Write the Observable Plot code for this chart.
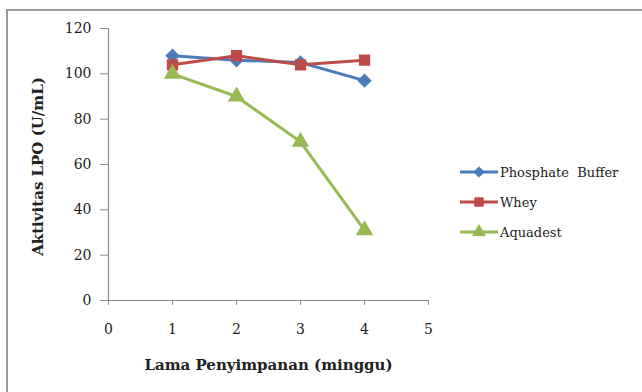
<!DOCTYPE html>
<html>
<head>
<meta charset="utf-8">
<script src="https://cdn.jsdelivr.net/npm/d3@7"></script>
<script src="https://cdn.jsdelivr.net/npm/@observablehq/plot@0.6"></script>
<style>
  html, body { margin: 0; padding: 0; background: #fff; }
  #wrap { position: relative; width: 642px; height: 392px; overflow: hidden; }
  #frame { position: absolute; left: 6px; top: 9px; width: 660px; height: 400px;
           border-left: 2px solid #9a9a9a; border-top: 2px solid #9a9a9a; box-sizing: border-box; }
  #legend { position: absolute; left: 458px; top: 160px; }
</style>
</head>
<body>
<div id="wrap"><div id="frame"></div><div id="chart"></div><div id="legend"></div></div>
<script>
const weeks = [1, 2, 3, 4];
const seriesNames = ["Phosphate  Buffer", "Whey", "Aquadest"];
const phosphate = [108, 106, 105, 97];
const whey = [104, 108, 104, 106];
const aquadest = [100, 90, 70, 31];
const seriesColors = ["#4a7ebb", "#be4b48", "#98b954"];
const seriesSymbols = ["diamond2", "square", "triangle"];
const xTicks = [0, 1, 2, 3, 4, 5];
const yTicks = [0, 20, 40, 60, 80, 100, 120];
const xLabel = "Lama Penyimpanan (minggu)";
const yLabel = "Aktivitas LPO (U/mL)";

const valuesBySeries = [phosphate, whey, aquadest];
const data = [];
seriesNames.forEach((s, i) => weeks.forEach((w, j) => data.push({series: s, week: w, value: valuesBySeries[i][j]})));

const font = "'DejaVu Serif', 'Liberation Serif', serif";

const chart = Plot.plot({
  width: 642,
  height: 392,
  marginLeft: 108,
  marginRight: 214,
  marginTop: 28,
  marginBottom: 92,
  style: { fontFamily: font, fontSize: "14px", color: "#222", background: "transparent" },
  x: { domain: [0, 5] },
  y: { domain: [0, 120] },
  color: { domain: seriesNames, range: seriesColors },
  symbol: { domain: seriesNames, range: seriesSymbols },
  marks: [
    Plot.axisX({ ticks: xTicks, tickSize: 5, tickPadding: 19, stroke: "#8c8c8c", fontSize: 14, fontFamily: font, label: null, tickFormat: d3.format("d") }),
    Plot.axisY({ ticks: yTicks, tickSize: 8, tickPadding: 9, stroke: "#8c8c8c", fontSize: 14, fontFamily: font, label: null }),
    Plot.ruleY([0], { stroke: "#8c8c8c", strokeWidth: 1.2 }),
    Plot.ruleX([0], { stroke: "#8c8c8c", strokeWidth: 1.2 }),
    Plot.line(data, { x: "week", y: "value", z: "series", stroke: "series", strokeWidth: 3 }),
    Plot.dot(data, { x: "week", y: "value", symbol: "series", fill: "series", stroke: "series", r: 5.5 }),
    Plot.text([xLabel], { frameAnchor: "bottom", dy: 69, fontWeight: "bold", fontSize: 15, fontFamily: font }),
    Plot.text([yLabel], { frameAnchor: "left", textAnchor: "middle", dx: -70, dy: 2, rotate: -90, fontWeight: "bold", fontSize: 15, fontFamily: font })
  ]
});
document.getElementById("chart").appendChild(chart);

// Legend
const leg = d3.select("#legend").append("svg").attr("width", 184).attr("height", 90)
  .style("font-family", font).style("font-size", "13px");
seriesNames.forEach((s, i) => {
  const g = leg.append("g").attr("transform", `translate(0,${12 + i * 30})`);
  g.append("line").attr("x1", 2).attr("x2", 40).attr("y1", 0).attr("y2", 0)
    .attr("stroke", seriesColors[i]).attr("stroke-width", 3);
  g.append("path").attr("transform", "translate(21,0)")
    .attr("d", d3.symbol(i === 0 ? d3.symbolDiamond2 : i === 1 ? d3.symbolSquare : d3.symbolTriangle, 70)())
    .attr("fill", seriesColors[i]).attr("stroke", seriesColors[i]);
  g.append("text").attr("x", 42).attr("y", 0).attr("dy", "0.35em").attr("fill", "#222")
    .style("white-space", "pre").text(s);
});
</script>
</body>
</html>
